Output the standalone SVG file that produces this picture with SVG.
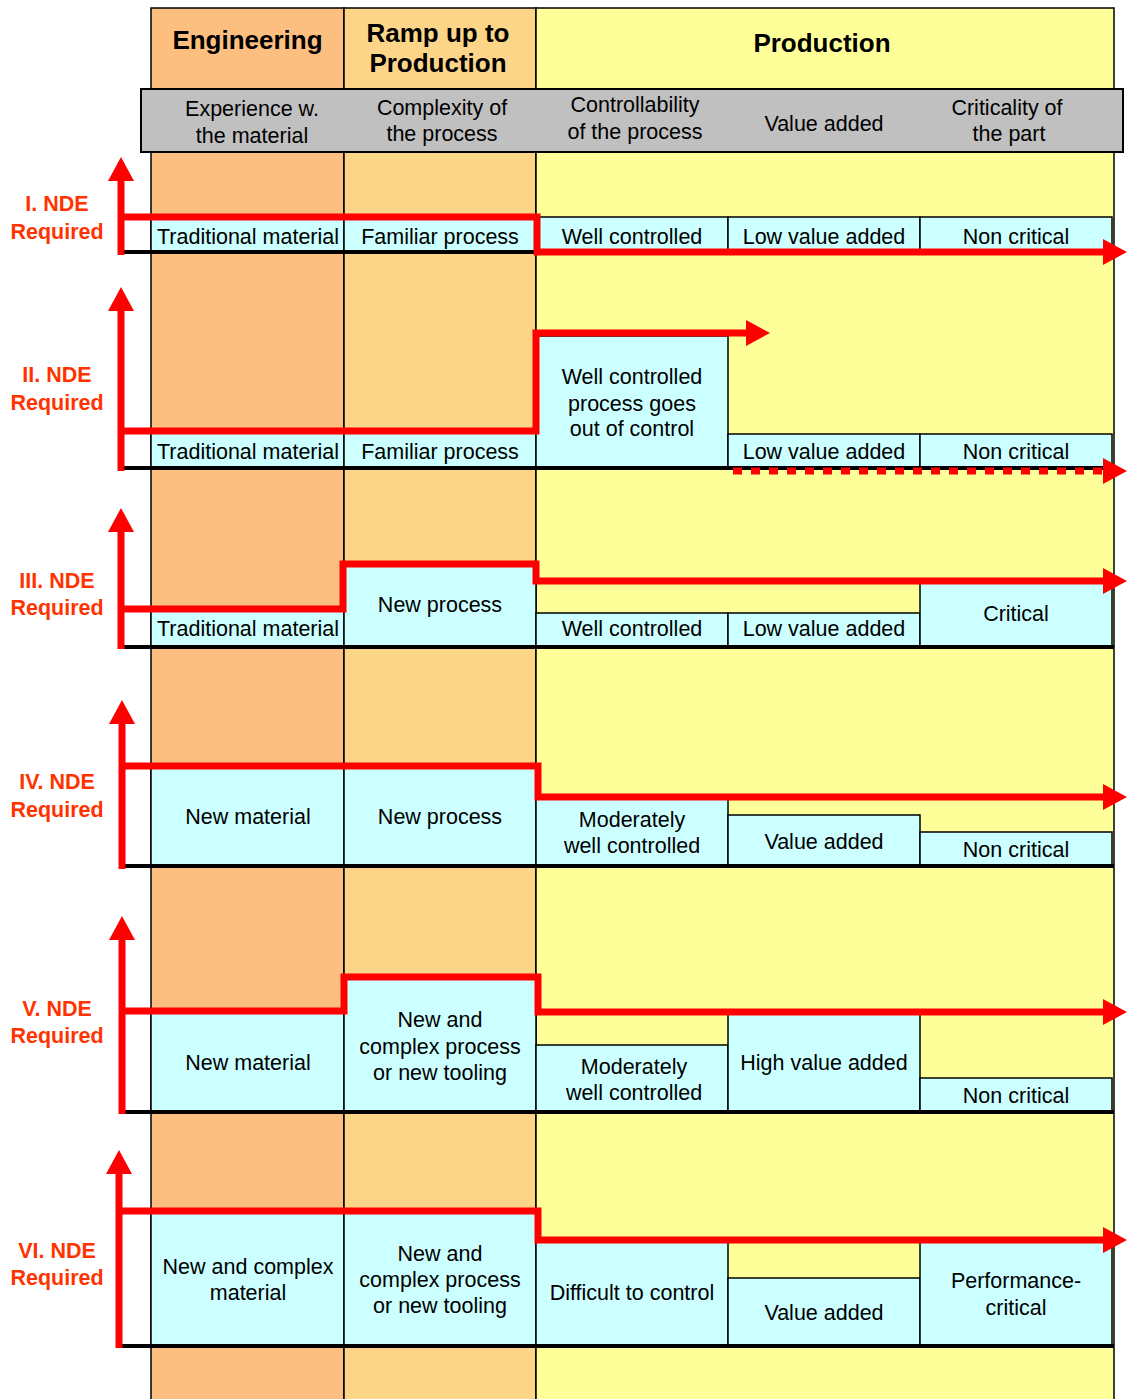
<svg xmlns="http://www.w3.org/2000/svg" width="1127" height="1399" viewBox="0 0 1127 1399">
<style>
.col{stroke:#000;stroke-width:1.5}
.cell{fill:#CCFFFF;stroke:#000;stroke-width:1.5}
.t{font-family:"Liberation Sans",Arial,sans-serif;font-size:21.5px;text-anchor:middle;fill:#000}
.h{font-family:"Liberation Sans",Arial,sans-serif;font-size:26px;font-weight:bold;text-anchor:middle;fill:#000}
.lab{font-family:"Liberation Sans",Arial,sans-serif;font-size:21.5px;font-weight:bold;text-anchor:middle;fill:#FF3300}
.base{stroke:#000;stroke-width:4;fill:none}
.red{stroke:#FF0000;stroke-width:7;fill:none;stroke-linejoin:miter}
.dot{stroke:#FF0000;stroke-width:7;fill:none;stroke-dasharray:9 9}
</style>
<defs>
<marker id="ah" viewBox="0 0 24 26" refX="14" refY="13" markerWidth="24" markerHeight="26" markerUnits="userSpaceOnUse" orient="auto">
<path d="M0,0 L24,13 L0,26 z" fill="#FF0000"/>
</marker>
</defs>
<rect width="1127" height="1399" fill="#FFFFFF"/>
<g id="columns">
<rect class="col" x="151" y="8" width="193" height="1400" fill="#FDBF80"/>
<rect class="col" x="344" y="8" width="192" height="1400" fill="#FDD588"/>
<rect class="col" x="536" y="8" width="578" height="1400" fill="#FFFF99"/>
<text class="h" x="247.5" y="49">Engineering</text>
<text class="h" x="438" y="42">Ramp up to</text>
<text class="h" x="438" y="72">Production</text>
<text class="h" x="822" y="52">Production</text>
</g>
<g id="header">
<rect x="141" y="89" width="982" height="63" fill="#C0C0C0" stroke="#000" stroke-width="2"/>
<text class="t" x="252" y="116">Experience w.</text>
<text class="t" x="252" y="143">the material</text>
<text class="t" x="442" y="115">Complexity of</text>
<text class="t" x="442" y="141">the process</text>
<text class="t" x="635" y="112">Controllability</text>
<text class="t" x="635" y="139">of the process</text>
<text class="t" x="824" y="131">Value added</text>
<text class="t" x="1007" y="115">Criticality of</text>
<text class="t" x="1009" y="141">the part</text>
</g>
<g id="row1">
<rect class="cell" x="151" y="217" width="193" height="34"/>
<rect class="cell" x="344" y="217" width="192" height="34"/>
<rect class="cell" x="536" y="217" width="192" height="34"/>
<rect class="cell" x="728" y="217" width="192" height="34"/>
<rect class="cell" x="920" y="217" width="192" height="34"/>
<text class="t" x="248" y="243.5">Traditional material</text>
<text class="t" x="440" y="243.5">Familiar process</text>
<text class="t" x="632" y="243.5">Well controlled</text>
<text class="t" x="824" y="243.5">Low value added</text>
<text class="t" x="1016" y="243.5">Non critical</text>
<line class="base" x1="121" y1="252" x2="1114" y2="252"/>
</g>
<g id="row2">
<rect class="cell" x="151" y="432" width="193" height="36"/>
<rect class="cell" x="344" y="432" width="192" height="36"/>
<rect class="cell" x="536" y="336" width="192" height="132"/>
<rect class="cell" x="728" y="434" width="192" height="34"/>
<rect class="cell" x="920" y="434" width="192" height="34"/>
<text class="t" x="248" y="459">Traditional material</text>
<text class="t" x="440" y="459">Familiar process</text>
<text class="t" x="632" y="384">Well controlled</text>
<text class="t" x="632" y="411">process goes</text>
<text class="t" x="632" y="436">out of control</text>
<text class="t" x="824" y="459">Low value added</text>
<text class="t" x="1016" y="459">Non critical</text>
<line class="base" x1="121" y1="468" x2="1114" y2="468"/>
</g>
<g id="row3">
<rect class="cell" x="151" y="610" width="193" height="37"/>
<rect class="cell" x="344" y="565" width="192" height="82"/>
<rect class="cell" x="536" y="613" width="192" height="34"/>
<rect class="cell" x="728" y="613" width="192" height="34"/>
<rect class="cell" x="920" y="583" width="192" height="64"/>
<text class="t" x="248" y="636">Traditional material</text>
<text class="t" x="440" y="612">New process</text>
<text class="t" x="632" y="636">Well controlled</text>
<text class="t" x="824" y="636">Low value added</text>
<text class="t" x="1016" y="621">Critical</text>
<line class="base" x1="121" y1="647" x2="1114" y2="647"/>
</g>
<g id="row4">
<rect class="cell" x="151" y="767" width="193" height="99"/>
<rect class="cell" x="344" y="767" width="192" height="99"/>
<rect class="cell" x="536" y="798" width="192" height="68"/>
<rect class="cell" x="728" y="815" width="192" height="51"/>
<rect class="cell" x="920" y="832" width="192" height="34"/>
<text class="t" x="248" y="824">New material</text>
<text class="t" x="440" y="824">New process</text>
<text class="t" x="632" y="827">Moderately</text>
<text class="t" x="632" y="853">well controlled</text>
<text class="t" x="824" y="849">Value added</text>
<text class="t" x="1016" y="857">Non critical</text>
<line class="base" x1="121" y1="866" x2="1114" y2="866"/>
</g>
<g id="row5">
<rect class="cell" x="151" y="1012" width="193" height="100"/>
<rect class="cell" x="344" y="978" width="192" height="134"/>
<rect class="cell" x="536" y="1045" width="192" height="67"/>
<rect class="cell" x="728" y="1014" width="192" height="98"/>
<rect class="cell" x="920" y="1078" width="192" height="34"/>
<text class="t" x="248" y="1070">New material</text>
<text class="t" x="440" y="1027">New and</text>
<text class="t" x="440" y="1054">complex process</text>
<text class="t" x="440" y="1080">or new tooling</text>
<text class="t" x="634" y="1074">Moderately</text>
<text class="t" x="634" y="1100">well controlled</text>
<text class="t" x="824" y="1070">High value added</text>
<text class="t" x="1016" y="1103">Non critical</text>
<line class="base" x1="121" y1="1112" x2="1114" y2="1112"/>
</g>
<g id="row6">
<rect class="cell" x="151" y="1212" width="193" height="134"/>
<rect class="cell" x="344" y="1212" width="192" height="134"/>
<rect class="cell" x="536" y="1241" width="192" height="105"/>
<rect class="cell" x="728" y="1278" width="192" height="68"/>
<rect class="cell" x="920" y="1241" width="192" height="105"/>
<text class="t" x="248" y="1274">New and complex</text>
<text class="t" x="248" y="1300">material</text>
<text class="t" x="440" y="1261">New and</text>
<text class="t" x="440" y="1287">complex process</text>
<text class="t" x="440" y="1313">or new tooling</text>
<text class="t" x="632" y="1300">Difficult to control</text>
<text class="t" x="824" y="1320">Value added</text>
<text class="t" x="1016" y="1288">Performance-</text>
<text class="t" x="1016" y="1315">critical</text>
<line class="base" x1="117" y1="1346" x2="1114" y2="1346"/>
</g>
<g id="connectors">
<path class="red" d="M121,255 V167" marker-end="url(#ah)"/>
<path class="red" d="M121,217 H537 V252 H1117" marker-end="url(#ah)"/>
<path class="red" d="M121,471 V297" marker-end="url(#ah)"/>
<path class="red" d="M121,431 H536 V333 H760" marker-end="url(#ah)"/>
<path class="dot" d="M733,471 H1117" marker-end="url(#ah)"/>
<path class="red" d="M121,649 V518" marker-end="url(#ah)"/>
<path class="red" d="M121,609 H343 V564 H536 V581 H1117" marker-end="url(#ah)"/>
<path class="red" d="M122,869 V710" marker-end="url(#ah)"/>
<path class="red" d="M122,766 H538 V797 H1117" marker-end="url(#ah)"/>
<path class="red" d="M122,1114 V926" marker-end="url(#ah)"/>
<path class="red" d="M122,1011 H344 V977 H538 V1012 H1117" marker-end="url(#ah)"/>
<path class="red" d="M119,1348 V1160" marker-end="url(#ah)"/>
<path class="red" d="M119,1211 H538 V1240 H1117" marker-end="url(#ah)"/>
</g>
<g id="labels">
<text class="lab" x="57" y="211">I. NDE</text>
<text class="lab" x="57" y="239">Required</text>
<text class="lab" x="57" y="382">II. NDE</text>
<text class="lab" x="57" y="410">Required</text>
<text class="lab" x="57" y="588">III. NDE</text>
<text class="lab" x="57" y="615">Required</text>
<text class="lab" x="57" y="789">IV. NDE</text>
<text class="lab" x="57" y="817">Required</text>
<text class="lab" x="57" y="1016">V. NDE</text>
<text class="lab" x="57" y="1043">Required</text>
<text class="lab" x="57" y="1258">VI. NDE</text>
<text class="lab" x="57" y="1285">Required</text>
</g>
</svg>
